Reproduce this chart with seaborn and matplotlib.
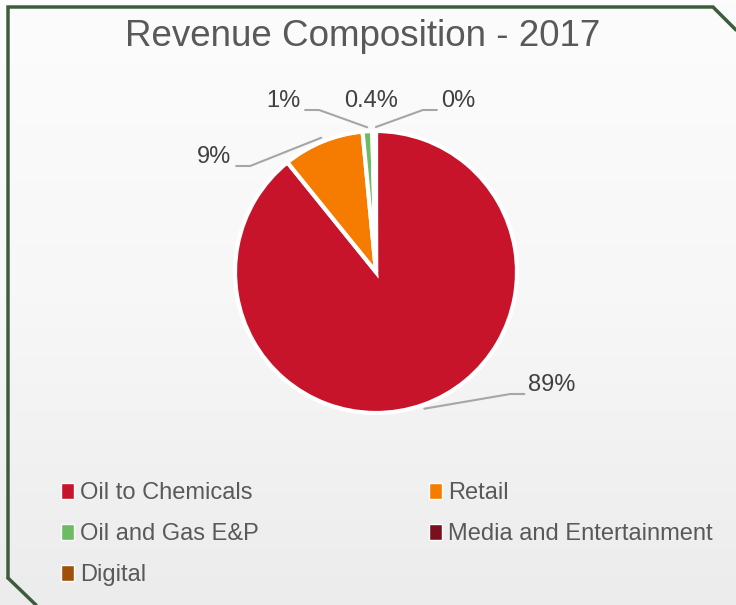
import numpy as np
import matplotlib.pyplot as plt
from matplotlib.patches import Patch
from matplotlib.colors import LinearSegmentedColormap
import seaborn as sns

# data
segments = ["Oil to Chemicals", "Retail", "Oil and Gas E&P", "Media and Entertainment", "Digital"]
shares = [89.2, 9.3, 1.1, 0.4, 0.02]
share_labels = ["89%", "9%", "1%", "0.4%", "0%"]
colors = ["#c8142b", "#f57c00", "#6dbb63", "#7b0f1d", "#a0500a"]

sns.set_style("white")
plt.rcParams["font.family"] = ["Liberation Sans", "DejaVu Sans"]

W, H = 736, 605
fig = plt.figure(figsize=(W / 100, H / 100), dpi=100)

# faint background, lighter at the top
bg = fig.add_axes([0, 0, 1, 1])
cmap = LinearSegmentedColormap.from_list("bg", ["#fcfcfc", "#f7f7f7", "#ececec"])
grad = np.linspace(0, 1, 200)[:, None] * np.ones((1, 10))
bg.imshow(grad, cmap=cmap, aspect="auto", extent=[0, W, 0, H], origin="upper")
bg.set_xlim(0, W)
bg.set_ylim(0, H)
bg.axis("off")

# frame with cut corners (pixel coords, y down)
frame = [(8, 578), (8, 7), (713, 7), (736, 30)]
bg.plot([p[0] for p in frame], [H - p[1] for p in frame], color="#3d5c3d", lw=2.5,
        solid_joinstyle="miter")
bg.plot([8, 36], [H - 578, 0], color="#3d5c3d", lw=2.5)

ax = fig.add_axes([0, 0, 1, 1])
cx, cy, r = 376, H - 272, 141
wedges, _ = ax.pie(shares, colors=colors, startangle=90, counterclock=False,
                   center=(cx, cy), radius=r, frame=True,
                   wedgeprops=dict(edgecolor="white", linewidth=3))
ax.set_xlim(0, W)
ax.set_ylim(0, H)
ax.axis("off")

fig.canvas.draw()
renderer = fig.canvas.get_renderer()

# label centres (pixel coords, y down); 0.4% has no visible leader line
label_pos = [(552, 385), (214, 157), (283, 101), (371, 101), (458, 101)]
show_line = [True, True, True, False, True]
for w, lab, (tx, ty), show in zip(wedges, share_labels, label_pos, show_line):
    t = ax.text(tx, H - ty, lab, ha="center", va="center", fontsize=17, color="#404040")
    if not show:
        continue
    half = t.get_window_extent(renderer).width / 2
    ang = np.deg2rad((w.theta1 + w.theta2) / 2)
    ex, ey = cx + (r + 4) * np.cos(ang), cy + (r + 4) * np.sin(ang)
    ly = H - ty - 9
    if tx > ex:
        land = tx - half - 4
        ax.plot([ex, land - 14, land], [ey, ly, ly], color="#a6a6a6", lw=1.5)
    else:
        land = tx + half + 5
        ax.plot([ex, land + 14, land], [ey, ly, ly], color="#a6a6a6", lw=1.5)

fig.text(363 / W, 1 - 37 / H, "Revenue Composition - 2017", ha="center", va="center",
         fontsize=26.5, color="#595959")

order = [0, 2, 4, 1, 3]
handles = [Patch(facecolor=colors[i], edgecolor="white", label=segments[i]) for i in order]
fig.legend(handles=handles, ncol=2, loc="upper left", bbox_to_anchor=(40 / W, 1 - 461 / H),
           frameon=False, fontsize=17, labelcolor="#595959", handlelength=0.55,
           handleheight=0.65, handletextpad=0.25, columnspacing=7.2, labelspacing=0.8)

plt.savefig("out.png", dpi=100)
